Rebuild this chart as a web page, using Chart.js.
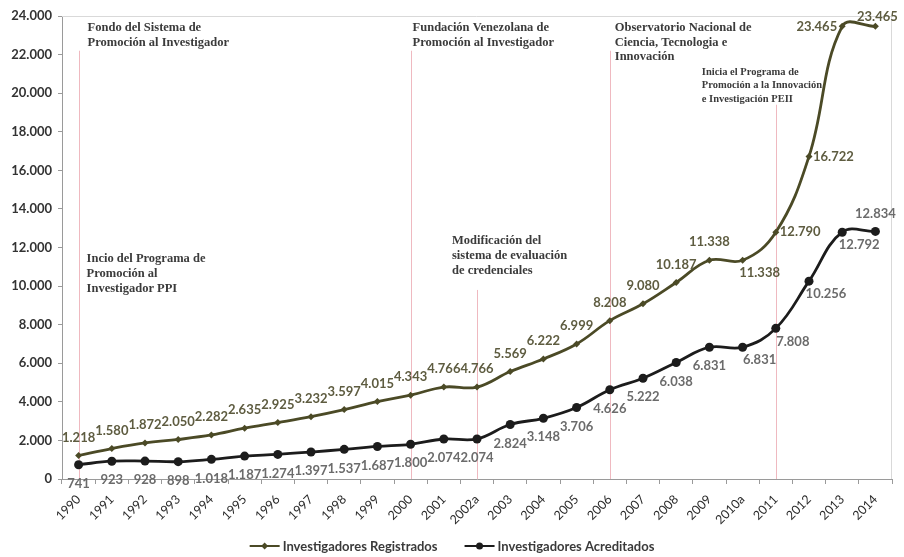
<!DOCTYPE html>
<html>
<head>
<meta charset="utf-8">
<script src="https://cdn.jsdelivr.net/npm/chart.js@4/dist/chart.umd.min.js"></script>
<style>
  html, body { margin: 0; padding: 0; background: #fff; }
  #wrap { width: 904px; height: 557px; }
</style>
</head>
<body>
<div id="wrap"><canvas id="grafico" width="904" height="557"></canvas></div>
<script>
const anos = ["1990", "1991", "1992", "1993", "1994", "1995", "1996", "1997", "1998", "1999",
  "2000", "2001", "2002a", "2003", "2004", "2005", "2006", "2007", "2008", "2009",
  "2010a", "2011", "2012", "2013", "2014"];

const registrados = [1218, 1580, 1872, 2050, 2282, 2635, 2925, 3232, 3597, 4015,
  4343, 4766, 4766, 5569, 6222, 6999, 8208, 9080, 10187, 11338,
  11338, 12790, 16722, 23465, 23465];

const acreditados = [741, 923, 928, 898, 1018, 1187, 1274, 1397, 1537, 1687,
  1800, 2074, 2074, 2824, 3148, 3706, 4626, 5222, 6038, 6831,
  6831, 7808, 10256, 12792, 12834];

const ejeMax = 24000;
const ejePaso = 2000;

// donde va cada etiqueta respecto al punto: a=arriba, b=abajo, r=derecha, l=izquierda, br=abajo-derecha, ar=arriba
const posRegistrados = ["a", "a", "a", "a", "a", "a", "a", "a", "a", "a",
  "a", "a", "a", "a", "a", "a", "a", "a", "a", "a",
  "br", "r", "r", "l", "ar"];
const posAcreditados = ["b", "b", "b", "b", "b", "b", "b", "b", "b", "b",
  "b", "b", "b", "b", "b", "b", "b", "b", "b", "b",
  "br", "br", "br", "br", "a"];

// hitos: año de la línea, valor donde empieza la línea, desplazamiento del texto y renglones
const hitos = [
  { ano: "1990", desde: 22200, dx: 9, y: 23400, lineas: ["Fondo del Sistema de", "Promoción al Investigador"] },
  { ano: "1990", desde: null, dx: 8, y: 11400, lineas: ["Incio del Programa de", "Promoción al", "Investigador PPI"] },
  { ano: "2000", desde: 22200, dx: 2, y: 23400, lineas: ["Fundación Venezolana de", "Promoción al Investigador"] },
  { ano: "2002a", desde: 9800, dx: -25, y: 12350, lineas: ["Modificación del", "sistema de evaluación", "de credenciales"] },
  { ano: "2006", desde: 22200, dx: 5, y: 23400, lineas: ["Observatorio Nacional de", "Ciencia, Tecnologia e", "Innovación"] },
  { ano: "2011", desde: 19400, dx: -74, y: 21100, lineas: ["Inicia el Programa de", "Promoción a la Innovación", "e Investigación PEII"], chico: true },
];

function formatoMiles(v) {
  return String(v).replace(/\B(?=(\d{3})+(?!\d))/g, ".");
}

const desplazamientos = {
  a: { dx: 0, dy: -18, align: "center" },
  b: { dx: 0, dy: 19, align: "center" },
  r: { dx: 4, dy: 0, align: "left" },
  l: { dx: -5, dy: 0, align: "right" },
  br: { dx: 17, dy: 13, align: "center" },
  ar: { dx: 2, dy: -10, align: "center" },
};

const pluginMarco = {
  id: "marco",
  beforeDatasetsDraw(chart) {
    const { ctx, chartArea, scales } = chart;
    ctx.save();
    // borde superior y derecho del área
    ctx.strokeStyle = "#d9d9d9";
    ctx.lineWidth = 1;
    ctx.beginPath();
    ctx.moveTo(chartArea.left, chartArea.top + 0.5);
    ctx.lineTo(chartArea.right - 0.5, chartArea.top + 0.5);
    ctx.lineTo(chartArea.right - 0.5, chartArea.bottom);
    ctx.stroke();

    // líneas verticales de los hitos
    ctx.strokeStyle = "#efb9c0";
    hitos.forEach((h) => {
      if (h.desde === null) return;
      const x = Math.round(scales.x.getPixelForValue(anos.indexOf(h.ano))) + 0.5;
      ctx.beginPath();
      ctx.moveTo(x, scales.y.getPixelForValue(h.desde));
      ctx.lineTo(x, chartArea.bottom);
      ctx.stroke();
    });

    // textos de los hitos
    ctx.fillStyle = "#3b3b3b";
    ctx.textBaseline = "middle";
    ctx.textAlign = "left";
    hitos.forEach((h) => {
      const x = scales.x.getPixelForValue(anos.indexOf(h.ano)) + h.dx;
      const y0 = scales.y.getPixelForValue(h.y);
      ctx.font = h.chico ? "bold 10.5px 'Liberation Serif'" : "bold 12.5px 'Liberation Serif'";
      const alto = h.chico ? 13.8 : 14.8;
      h.lineas.forEach((t, i) => ctx.fillText(t, x, y0 + i * alto));
    });
    ctx.restore();
  },
};

const pluginEtiquetas = {
  id: "etiquetas",
  afterDatasetsDraw(chart) {
    const { ctx } = chart;
    ctx.save();
    ctx.font = "bold 13px Lato";
    ctx.textBaseline = "middle";
    chart.data.datasets.forEach((ds, i) => {
      const meta = chart.getDatasetMeta(i);
      ctx.fillStyle = ds.colorEtiqueta;
      meta.data.forEach((p, j) => {
        const d = desplazamientos[ds.posiciones[j]];
        ctx.textAlign = d.align;
        ctx.fillText(formatoMiles(ds.data[j]), p.x + d.dx, p.y + d.dy);
      });
    });
    ctx.restore();
  },
};

// leyenda al pie con línea y marcador
const pluginLeyenda = {
  id: "leyenda",
  afterDraw(chart) {
    const { ctx, width } = chart;
    const y = 546;
    const largo = 30;
    const sep = 3;
    const hueco = 27;
    ctx.save();
    ctx.font = "bold 13px Lato";
    ctx.textBaseline = "middle";
    const items = chart.data.datasets.map((ds) => ({ ds, w: ctx.measureText(ds.label).width }));
    const total = items.reduce((s, it) => s + largo + sep + it.w, 0) + hueco * (items.length - 1);
    let x = (width - total) / 2;
    items.forEach(({ ds, w }) => {
      ctx.strokeStyle = ds.borderColor;
      ctx.lineWidth = 2;
      ctx.beginPath();
      ctx.moveTo(x, y);
      ctx.lineTo(x + largo, y);
      ctx.stroke();
      ctx.fillStyle = ds.borderColor;
      ctx.beginPath();
      if (ds.pointStyle === "circle") {
        ctx.arc(x + largo / 2, y, 3.5, 0, Math.PI * 2);
      } else {
        const c = x + largo / 2;
        ctx.moveTo(c, y - 3.5);
        ctx.lineTo(c + 3.5, y);
        ctx.lineTo(c, y + 3.5);
        ctx.lineTo(c - 3.5, y);
        ctx.closePath();
      }
      ctx.fill();
      ctx.fillStyle = "#3a3a3a";
      ctx.textAlign = "left";
      ctx.fillText(ds.label, x + largo + sep, y + 1);
      x += largo + sep + w + hueco;
    });
    ctx.restore();
  },
};

new Chart(document.getElementById("grafico"), {
  type: "line",
  data: {
    labels: anos,
    datasets: [
      {
        label: "Investigadores Registrados",
        data: registrados,
        borderColor: "#4b4a26",
        backgroundColor: "#4b4a26",
        borderWidth: 2.8,
        pointStyle: "rectRot",
        pointRadius: 3.5,
        pointBorderWidth: 0,
        tension: 0.4,
        clip: 12,
        colorEtiqueta: "#5e5c40",
        posiciones: posRegistrados,
      },
      {
        label: "Investigadores Acreditados",
        data: acreditados,
        borderColor: "#1c1c1c",
        backgroundColor: "#1c1c1c",
        borderWidth: 2.8,
        pointStyle: "circle",
        pointRadius: 4.5,
        pointBorderWidth: 0,
        tension: 0.4,
        clip: 12,
        colorEtiqueta: "#6b6b6b",
        posiciones: posAcreditados,
      },
    ],
  },
  options: {
    responsive: false,
    animation: false,
    layout: { padding: { left: 0, right: 12, top: 16, bottom: 32 } },
    plugins: {
      legend: { display: false },
      tooltip: { enabled: false },
    },
    scales: {
      x: {
        offset: true,
        grid: {
          offset: true,
          drawOnChartArea: false,
          drawTicks: true,
          tickLength: 5,
          color: "#9a9a9a",
        },
        border: { color: "#9a9a9a", width: 1 },
        ticks: {
          autoSkip: false,
          maxRotation: 45,
          minRotation: 45,
          color: "#2a2a2a",
          font: { family: "Lato", size: 12.5 },
          padding: 8,
        },
        afterFit(scale) { scale.height = 46; },
      },
      y: {
        min: 0,
        max: ejeMax,
        grid: {
          drawOnChartArea: false,
          drawTicks: true,
          tickLength: 4,
          color: "#9a9a9a",
        },
        border: { color: "#9a9a9a", width: 1 },
        ticks: {
          stepSize: ejePaso,
          color: "#333",
          font: { family: "Lato", size: 13, weight: "bold" },
          padding: 6,
          callback: (v) => formatoMiles(v),
        },
        afterFit(scale) { scale.width = 62; },
      },
    },
  },
  plugins: [pluginMarco, pluginEtiquetas, pluginLeyenda],
});
</script>
</body>
</html>
